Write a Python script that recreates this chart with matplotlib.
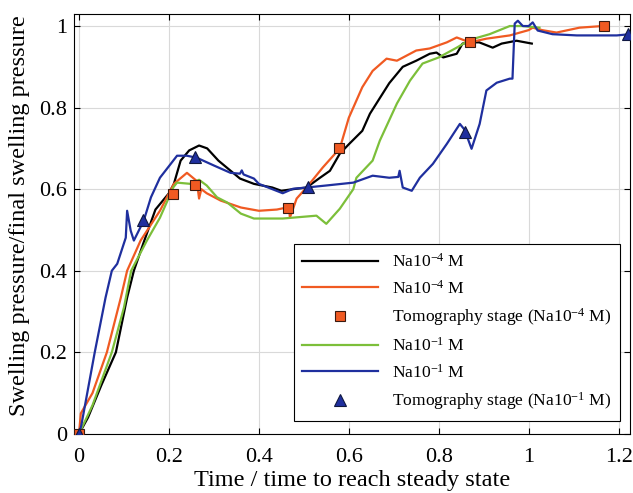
import matplotlib
matplotlib.use("Agg")
import matplotlib.pyplot as plt

plt.rcParams['font.family'] = ['Liberation Serif', 'DejaVu Serif']
plt.rcParams['mathtext.default'] = 'regular'

# Na10^-4 M (run 1, black)
t_black = [0, 0.02, 0.05, 0.082, 0.107, 0.122, 0.144, 0.17, 0.2, 0.211, 0.226, 0.245, 0.267, 0.285,
           0.31, 0.358, 0.389, 0.43, 0.45, 0.476, 0.506, 0.536, 0.558, 0.58, 0.60, 0.63, 0.647,
           0.69, 0.72, 0.75, 0.78, 0.795, 0.81, 0.84, 0.853, 0.87, 0.89, 0.92, 0.94, 0.973, 1.007]
p_black = [0, 0.04, 0.12, 0.2, 0.334, 0.4, 0.47, 0.55, 0.59, 0.613, 0.67, 0.695, 0.707, 0.70,
           0.67, 0.626, 0.613, 0.604, 0.596, 0.60, 0.604, 0.628, 0.645, 0.687, 0.71, 0.743, 0.785,
           0.86, 0.90, 0.915, 0.932, 0.935, 0.923, 0.932, 0.957, 0.96, 0.96, 0.947, 0.957, 0.964, 0.957]

# Na10^-4 M (run 2, orange)
t_orange = [0, 0.004, 0.03, 0.062, 0.093, 0.107, 0.137, 0.18, 0.211, 0.24, 0.262, 0.267, 0.272, 0.284,
            0.315, 0.36, 0.40, 0.44, 0.462, 0.467, 0.469, 0.484, 0.506, 0.542, 0.58, 0.60, 0.63,
            0.653, 0.684, 0.707, 0.75, 0.78, 0.818, 0.84, 0.869, 0.906, 0.958, 1.0, 1.009, 1.03,
            1.062, 1.113, 1.164]
p_orange = [0, 0.05, 0.1, 0.2, 0.334, 0.4, 0.474, 0.547, 0.613, 0.64, 0.62, 0.577, 0.60, 0.59,
            0.572, 0.555, 0.547, 0.55, 0.555, 0.556, 0.53, 0.577, 0.604, 0.653, 0.70, 0.775, 0.85,
            0.89, 0.92, 0.915, 0.94, 0.945, 0.96, 0.972, 0.96, 0.969, 0.977, 0.99, 0.996, 0.99,
            0.984, 0.996, 1.0]

# Na10^-1 M (run 1, green)
t_green = [0, 0.03, 0.073, 0.1, 0.116, 0.151, 0.18, 0.21, 0.218, 0.248, 0.267, 0.284, 0.307, 0.33,
           0.36, 0.389, 0.40, 0.453, 0.528, 0.55, 0.58, 0.61, 0.617, 0.653, 0.669, 0.707, 0.736,
           0.764, 0.80, 0.84, 0.869, 0.913, 0.958, 0.987, 1.024]
p_green = [0, 0.07, 0.2, 0.31, 0.4, 0.474, 0.53, 0.605, 0.616, 0.613, 0.623, 0.609, 0.58, 0.567,
           0.54, 0.528, 0.528, 0.528, 0.535, 0.515, 0.552, 0.6, 0.628, 0.67, 0.719, 0.81, 0.866,
           0.908, 0.923, 0.947, 0.966, 0.98, 1.0, 1.0, 0.996]

# Na10^-1 M (run 2, blue)
t_blue = [0, 0.005, 0.035, 0.059, 0.073, 0.085, 0.104, 0.107, 0.115, 0.122, 0.144, 0.16, 0.18, 0.204,
          0.218, 0.24, 0.262, 0.30, 0.337, 0.358, 0.362, 0.366, 0.389, 0.40, 0.453, 0.476, 0.506,
          0.55, 0.61, 0.653, 0.69, 0.71, 0.713, 0.72, 0.74, 0.758, 0.787, 0.818, 0.847, 0.858,
          0.866, 0.873, 0.891, 0.906, 0.929, 0.958, 0.964, 0.969, 0.976, 0.987, 1.0, 1.009,
          1.02, 1.053, 1.107, 1.151, 1.196, 1.225]
p_blue = [0, 0.02, 0.2, 0.334, 0.4, 0.417, 0.481, 0.547, 0.498, 0.474, 0.523, 0.58, 0.628, 0.662,
          0.682, 0.682, 0.677, 0.658, 0.64, 0.638, 0.646, 0.636, 0.626, 0.613, 0.59, 0.601, 0.604,
          0.609, 0.616, 0.633, 0.628, 0.63, 0.645, 0.604, 0.596, 0.628, 0.662, 0.711, 0.76, 0.745,
          0.72, 0.699, 0.76, 0.842, 0.861, 0.871, 0.871, 1.006, 1.013, 1.0, 1.0, 1.009,
          0.989, 0.98, 0.977, 0.977, 0.977, 0.98]

# tomography stages
tomo4_t = [0, 0.21, 0.257, 0.464, 0.578, 0.87, 1.167]
tomo4_p = [0, 0.587, 0.609, 0.554, 0.70, 0.96, 1.0]
tomo1_t = [0, 0.143, 0.259, 0.509, 0.858, 1.222]
tomo1_p = [0, 0.524, 0.68, 0.606, 0.741, 0.981]

c_orange = '#f05a22'
c_green = '#7cbf3a'
c_blue = '#1f2f9e'

fig, ax = plt.subplots(figsize=(6.33, 4.93), dpi=100)
fig.subplots_adjust(left=0.117, right=0.995, top=0.972, bottom=0.12)

ax.plot(t_black, p_black, color='black', lw=1.6, label='Na10$^{-4}$ M')
ax.plot(t_orange, p_orange, color=c_orange, lw=1.6, label='Na10$^{-4}$ M')
ax.plot(tomo4_t, tomo4_p, ls='none', marker='s', ms=6.5, mfc=c_orange, mec='#3a1a10', mew=0.8,
        label='Tomography stage (Na10$^{-4}$ M)', zorder=4)
ax.plot(t_green, p_green, color=c_green, lw=1.6, label='Na10$^{-1}$ M')
ax.plot(t_blue, p_blue, color=c_blue, lw=1.6, label='Na10$^{-1}$ M')
ax.plot(tomo1_t, tomo1_p, ls='none', marker='^', ms=8, mfc=c_blue, mec='#101840', mew=0.8,
        label='Tomography stage (Na10$^{-1}$ M)', zorder=4)

ax.set_xlim(-0.011, 1.225)
ax.set_ylim(0, 1.03)
ax.set_xticks([0, 0.2, 0.4, 0.6, 0.8, 1, 1.2])
ax.set_xticklabels(['0', '0.2', '0.4', '0.6', '0.8', '1', '1.2'])
ax.set_yticks([0, 0.2, 0.4, 0.6, 0.8, 1])
ax.set_yticklabels(['0', '0.2', '0.4', '0.6', '0.8', '1'])
ax.tick_params(direction='in', top=True, right=True, labelsize=16, length=4)
ax.tick_params(axis='x', pad=10)
ax.tick_params(axis='y', pad=5)
ax.grid(True, color='#d9d9d9', lw=0.8)
ax.set_axisbelow(True)
ax.set_xlabel('Time / time to reach steady state', fontsize=17.5, labelpad=2)
ax.set_ylabel('Swelling pressure/final swelling pressure', fontsize=17.5)
ax.yaxis.set_label_coords(-0.08, 0.52)

leg = ax.legend(loc='lower right', bbox_to_anchor=(0.982, 0.031), borderaxespad=0, fontsize=12.6,
                handlelength=4.3, fancybox=False, edgecolor='black', framealpha=1,
                borderpad=0.5, labelspacing=0.5)
leg.get_frame().set_linewidth(0.8)

fig.savefig('out.png', dpi=100)
